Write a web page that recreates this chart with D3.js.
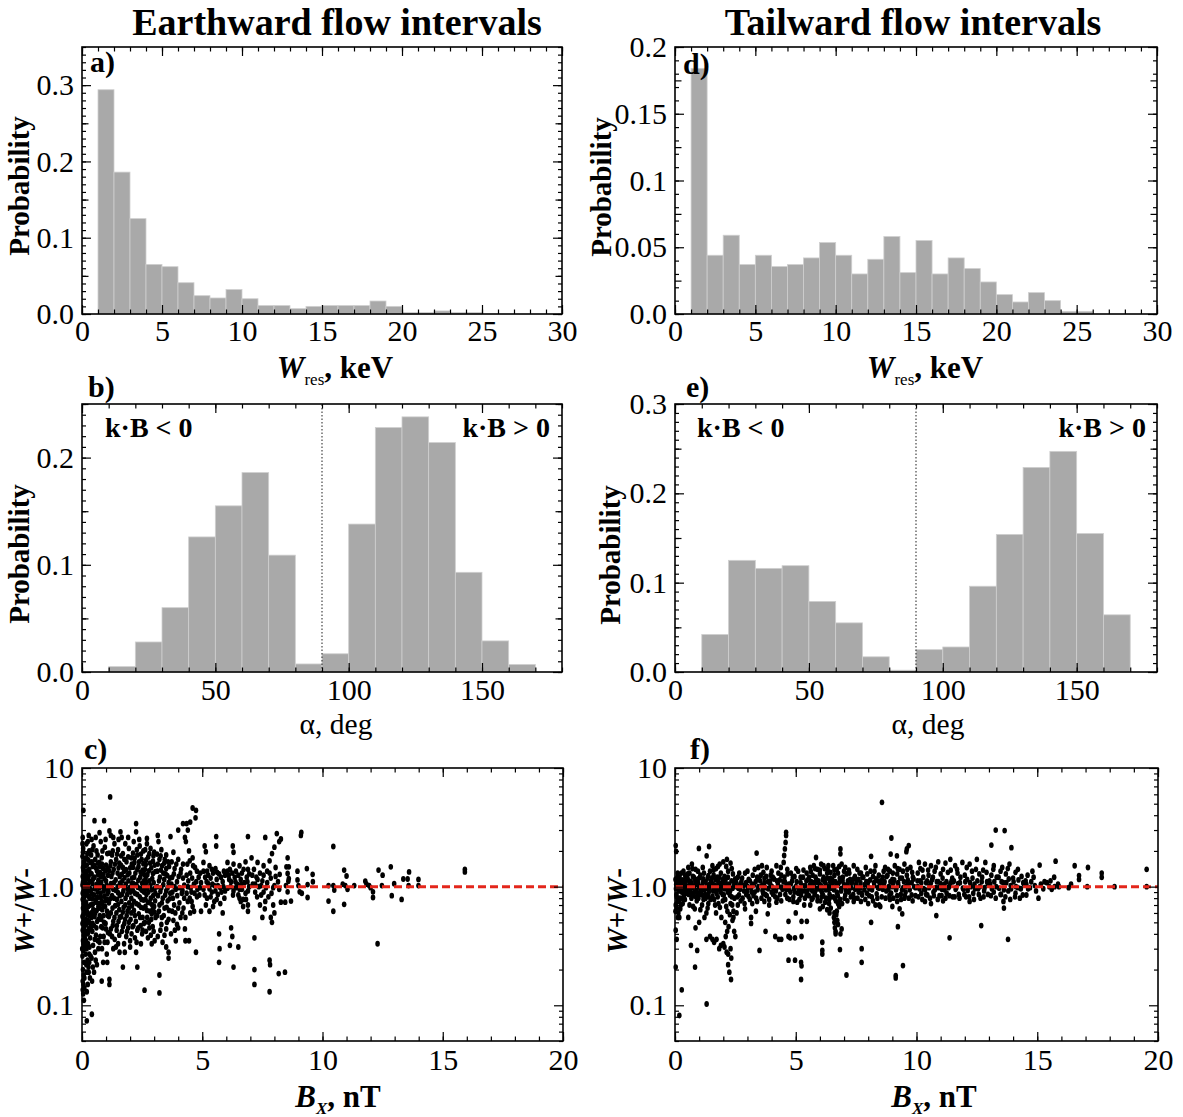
<!DOCTYPE html>
<html>
<head>
<meta charset="utf-8">
<script src="https://cdn.jsdelivr.net/npm/d3@7"></script>
<style>
body { margin: 0; background: #fff; }
text { font-family: "Liberation Serif", "Times New Roman", serif; }
</style>
</head>
<body>
<script>
// ---- histogram data (bin lower edges + probability) ----
var wresBinsEarth = [1,2,3,4,5,6,7,8,9,10,11,12,13,14,15,16,17,18,19,20,21,22,23,24];
var wresProbEarth = [0.294,0.186,0.125,0.065,0.062,0.041,0.024,0.021,0.032,0.020,0.011,0.011,0.007,0.010,0.011,0.011,0.011,0.017,0.010,0.002,0.002,0.004,0.002,0.002];

var wresBinsTail = [1,2,3,4,5,6,7,8,9,10,11,12,13,14,15,16,17,18,19,20,21,22,23,24,25];
var wresProbTail = [0.184,0.044,0.059,0.037,0.044,0.0355,0.037,0.042,0.0535,0.044,0.030,0.041,0.058,0.031,0.055,0.030,0.042,0.034,0.024,0.0145,0.009,0.016,0.010,0.002,0.002];

var alphaBins = [10,20,30,40,50,60,70,80,90,100,110,120,130,140,150,160];
var alphaProbEarth = [0.005,0.028,0.060,0.126,0.155,0.186,0.109,0.0075,0.017,0.138,0.228,0.238,0.214,0.093,0.029,0.007];
var alphaProbTail = [0.042,0.125,0.116,0.119,0.079,0.055,0.017,0.002,0.025,0.028,0.096,0.154,0.229,0.247,0.155,0.064];

// ---- tick labels ----
var wresTicks = [0,5,10,15,20,25,30];
var alphaTicks = [0,50,100,150];
var bxTicks = [0,5,10,15,20];
var probTicksA = ["0.0","0.1","0.2","0.3"];
var probTicksD = ["0.0","0.05","0.1","0.15","0.2"];
var probTicksB = ["0.0","0.1","0.2"];
var probTicksE = ["0.0","0.1","0.2","0.3"];
var ratioTicks = ["0.1","1.0","10"];

// ---- scatter data [Bx nT, W+/W-] ----
var earthPoints = [
[0.03,2.6],[0.05,2.1],[0.02,1.8],[0.08,1.62],[0.04,1.45],[0.1,1.33],[0.03,1.22],[0.07,1.12],[0.02,1.03],[0.09,0.97],[0.05,0.9],[0.12,0.84],[0.03,0.78],[0.07,0.72],[0.04,0.66],[0.1,0.61],[0.02,0.56],[0.06,0.51],[0.11,0.47],[0.03,0.43],[0.08,0.39],[0.04,0.35],[0.12,0.32],[0.05,0.29],[0.02,0.26],[0.09,0.23],[0.04,0.2],[0.07,0.18],[0.03,0.16],[0.1,0.14],[0.05,0.125],[0.08,0.11],[0.06,4.4],[0.04,1.95],[0.13,1.5],[0.14,1.08],[0.13,0.7],[0.14,0.42],
[0.18,2.3],[0.22,1.9],[0.26,1.68],[0.2,1.52],[0.3,1.4],[0.17,1.27],[0.25,1.17],[0.33,1.1],[0.19,1.0],[0.28,0.93],[0.22,0.86],[0.31,0.8],[0.17,0.74],[0.26,0.68],[0.2,0.62],[0.32,0.57],[0.24,0.52],[0.18,0.48],[0.29,0.44],[0.21,0.4],[0.34,0.37],[0.25,0.33],[0.19,0.3],[0.3,0.27],[0.23,0.24],[0.27,0.21],[0.2,0.19],[0.33,0.17],[0.24,0.15],[0.2,0.13],[0.3,0.23],[0.2,0.074],[0.41,0.084],[0.28,2.7],
[0.52,3.6],[0.4,2.5],[0.48,2.2],[0.6,2.0],[0.38,1.85],[0.55,1.7],[0.66,1.58],[0.45,1.48],[0.62,1.36],[0.4,1.28],[0.52,1.2],[0.68,1.13],[0.44,1.06],[0.58,0.99],[0.37,0.94],[0.65,0.9],[0.5,0.85],[0.42,0.79],[0.6,0.74],[0.68,0.68],[0.47,0.64],[0.55,0.6],[0.39,0.55],[0.63,0.51],[0.5,0.47],[0.43,0.42],[0.58,0.39],[0.66,0.35],[0.46,0.32],[0.54,0.28],[0.4,0.25],[0.62,0.22],[0.5,0.19],[0.42,0.16],[0.82,0.16],
[0.92,3.6],[0.78,2.4],[0.95,2.15],[1.05,1.9],[0.82,1.75],[0.72,1.6],[1.0,1.52],[0.88,1.42],[0.75,1.32],[1.08,1.25],[0.93,1.17],[0.8,1.09],[1.02,1.03],[0.72,0.98],[0.9,0.92],[1.06,0.87],[0.78,0.81],[0.97,0.76],[0.85,0.71],[0.73,0.66],[1.04,0.62],[0.9,0.57],[0.8,0.53],[0.98,0.49],[0.86,0.45],[1.08,0.41],[0.76,0.38],[0.94,0.34],[0.83,0.3],[1.03,0.27],[0.88,0.23],
[1.17,5.7],[1.14,2.95],[1.2,2.7],[1.35,2.3],[1.5,2.05],[1.25,1.85],[1.42,1.7],[1.55,1.58],[1.18,1.5],[1.32,1.4],[1.48,1.3],[1.22,1.22],[1.4,1.14],[1.58,1.07],[1.15,1.0],[1.3,0.95],[1.5,0.89],[1.25,0.84],[1.45,0.78],[1.12,0.73],[1.38,0.69],[1.55,0.64],[1.2,0.6],[1.35,0.55],[1.52,0.51],[1.28,0.47],[1.44,0.43],[1.16,0.4],[1.36,0.36],[1.5,0.33],[1.14,0.165],[1.14,0.15],[1.05,0.23],[1.56,0.28],[1.3,0.3],
[1.65,2.6],[1.8,2.3],[1.95,2.1],[1.7,1.9],[2.05,1.75],[1.85,1.62],[1.62,1.52],[2.0,1.44],[1.75,1.35],[1.9,1.26],[2.08,1.18],[1.68,1.12],[1.82,1.05],[1.98,0.98],[1.72,0.92],[1.88,0.86],[2.05,0.8],[1.64,0.75],[1.8,0.7],[1.95,0.66],[1.7,0.61],[1.86,0.57],[2.02,0.53],[1.76,0.49],[1.92,0.45],[1.66,0.42],[1.84,0.38],[2.0,0.35],[1.7,0.21],[2.0,0.31],[1.78,0.28],
[2.25,3.4],[2.25,2.9],[2.15,2.4],[2.4,2.2],[2.55,2.0],[2.3,1.85],[2.48,1.7],[2.18,1.6],[2.35,1.48],[2.52,1.38],[2.22,1.3],[2.42,1.2],[2.58,1.12],[2.14,1.06],[2.32,0.99],[2.5,0.93],[2.2,0.88],[2.4,0.82],[2.56,0.77],[2.26,0.72],[2.45,0.67],[2.16,0.63],[2.36,0.59],[2.52,0.55],[2.24,0.51],[2.44,0.47],[2.3,0.43],[2.5,0.4],[2.2,0.37],[2.3,0.21],[2.25,0.28],[2.6,0.134],
[2.7,2.3],[2.85,2.1],[3.0,1.95],[2.75,1.78],[2.95,1.64],[2.65,1.54],[2.88,1.44],[3.05,1.34],[2.72,1.26],[2.92,1.17],[2.68,1.09],[2.84,1.02],[3.02,0.96],[2.76,0.9],[2.96,0.84],[2.64,0.78],[2.82,0.73],[3.0,0.68],[2.7,0.63],[2.9,0.59],[3.06,0.55],[2.78,0.5],[2.94,0.46],[2.66,0.42],[2.86,0.39],[3.02,0.35],[2.94,0.64],[2.6,0.95],
[3.15,2.7],[3.18,2.4],[3.68,2.64],[3.3,2.05],[3.5,1.85],[3.22,1.7],[3.42,1.58],[3.62,1.48],[3.28,1.38],[3.48,1.28],[3.66,1.18],[3.2,1.12],[3.38,1.04],[3.56,0.98],[3.26,0.91],[3.46,0.85],[3.64,0.79],[3.32,0.73],[3.52,0.67],[3.2,0.62],[3.4,0.57],[3.6,0.53],[3.3,0.48],[3.5,0.44],[3.22,0.18],[3.22,0.127],[3.6,0.28],[3.6,0.25],[3.5,0.31],[3.7,0.4],
[3.8,1.95],[4.0,1.7],[4.2,1.55],[3.85,1.42],[4.1,1.3],[3.75,1.2],[3.95,1.1],[4.25,1.03],[3.9,0.95],[4.15,0.88],[3.78,0.8],[4.05,0.73],[4.22,0.66],[3.88,0.6],[4.1,0.55],[3.95,0.48],[4.28,0.44],[3.9,0.35],[4.3,0.35],[4.0,3.0],[4.2,3.4],
[4.6,4.6],[4.74,4.4],[4.72,3.8],[4.35,3.4],[4.5,3.5],[4.4,3.0],[4.28,2.6],[4.32,2.4],[4.45,2.0],[4.6,1.75],[4.38,1.55],[4.7,1.45],[4.5,1.3],[4.85,1.2],[4.42,1.12],[4.65,1.05],[4.9,0.98],[4.55,0.9],[4.78,0.82],[4.4,0.75],[4.6,0.68],[4.95,0.62],[4.74,0.28],[4.45,0.35],[4.56,0.75],
[5.1,2.2],[5.15,1.97],[5.58,2.64],[5.58,2.2],[5.05,1.6],[5.3,1.5],[5.55,1.42],[5.2,1.35],[5.45,1.3],[5.7,1.28],[5.9,1.35],[5.12,1.2],[5.35,1.18],[5.6,1.15],[5.85,1.1],[5.25,1.06],[5.5,1.02],[5.75,0.98],[5.05,0.95],[5.4,0.9],[5.65,0.86],[5.95,0.92],[5.2,0.8],[5.5,0.75],[5.85,0.6],[5.7,0.4],[5.72,0.3],[5.7,0.23],[5.3,0.62],[5.15,0.7],
[6.27,2.2],[6.3,1.95],[6.9,2.64],[6.05,1.6],[6.3,1.55],[6.55,1.5],[6.8,1.62],[6.15,1.4],[6.4,1.35],[6.65,1.3],[6.9,1.4],[6.1,1.25],[6.35,1.2],[6.6,1.15],[6.85,1.2],[6.2,1.1],[6.45,1.05],[6.75,1.08],[6.95,1.0],[6.05,0.97],[6.3,0.92],[6.55,0.95],[6.8,0.88],[6.5,0.85],[6.7,0.78],[6.9,0.7],[6.2,0.45],[6.25,0.38],[6.15,0.32],[6.5,0.31],[6.3,0.21],[6.6,0.75],
[7.62,2.6],[8.1,2.8],[8.2,2.4],[8.0,2.15],[7.9,1.9],[7.05,1.75],[7.3,1.6],[7.55,1.5],[7.8,1.65],[7.15,1.4],[7.4,1.3],[7.7,1.35],[8.05,1.45],[7.25,1.2],[7.5,1.12],[7.85,1.18],[7.1,1.05],[7.35,1.0],[7.65,0.98],[8.0,1.02],[7.2,0.9],[7.45,0.85],[7.75,0.82],[7.4,0.7],[7.6,0.65],[7.85,0.55],[8.0,0.6],[7.9,0.5],[7.17,0.37],[7.17,0.2],[7.17,0.15],[7.8,0.24],[7.82,0.22],[7.8,0.13],[8.18,0.185],[8.44,0.19],[7.5,0.55],
[8.27,2.52],[9.1,2.7],[9.12,2.86],[10.45,2.18],[8.55,1.75],[8.5,1.47],[8.6,1.47],[8.22,1.27],[8.55,1.29],[8.6,1.17],[8.58,1.11],[8.96,1.35],[8.96,1.14],[9.35,1.42],[9.59,1.27],[9.6,1.1],[9.38,1.04],[9.0,1.02],[9.05,0.905],[8.48,1.02],[8.55,0.905],[8.69,0.755],[8.45,0.74],[8.27,0.74],[9.14,0.88],[9.38,0.81],[10.25,1.02],[10.45,1.02],[10.49,0.935],[10.25,0.755],[10.45,0.62],[10.9,1.38],[11.0,1.23],[10.84,1.05],[10.95,1.02],[11.04,0.95],[10.9,0.71],[11.32,1.02],[11.78,1.11],[11.83,1.05],[11.94,1.02],[12.0,0.98],[12.1,0.905],[12.1,0.81],[12.29,0.33],[12.33,1.38],[12.5,1.25],[12.47,1.02],[12.84,1.47],[12.88,0.84],[12.98,1.06],[13.29,0.78],[13.36,1.16],[13.54,1.16],[13.6,1.33],[13.58,1.02],[13.99,1.15],[13.99,1.02],[15.92,1.4],[15.92,1.33],
[0.06,1.38],[0.11,1.16],[0.04,1.09],[0.15,0.99],[0.09,0.81],[0.13,0.63],[0.07,0.58],[0.16,0.53],[0.02,0.49],[0.12,0.37],[0.06,0.33],[0.15,0.27],[0.01,0.3],[0.09,0.45],[0.11,0.68],[0.03,0.88],[0.16,1.25],[0.08,1.55],[0.14,1.72],[0.02,2.3],[0.1,0.17],[0.03,0.135],[0.06,0.15],
[0.21,1.36],[0.27,1.22],[0.35,1.3],[0.24,1.05],[0.32,0.97],[0.18,0.9],[0.29,0.83],[0.36,0.7],[0.23,0.58],[0.3,0.5],[0.36,0.46],[0.26,0.41],[0.17,0.35],[0.31,0.31],[0.36,0.26],[0.18,0.22],[0.28,0.19],[0.35,1.6],[0.19,1.75],[0.3,2.0],[0.24,2.4],
[0.41,1.62],[0.5,1.52],[0.58,1.44],[0.67,1.26],[0.46,1.16],[0.62,1.05],[0.53,0.96],[0.41,0.87],[0.64,0.81],[0.55,0.77],[0.45,0.71],[0.61,0.63],[0.38,0.6],[0.52,0.56],[0.68,0.53],[0.44,0.49],[0.6,0.45],[0.37,0.44],[0.53,0.36],[0.68,0.3],[0.57,0.24],[0.45,0.21],[0.65,1.85],[0.43,2.05],[0.57,2.6],
[0.74,1.48],[0.83,1.55],[0.97,1.36],[1.06,1.42],[0.79,1.22],[0.89,1.27],[1.0,1.12],[0.75,1.06],[0.87,1.0],[0.95,0.96],[1.08,0.95],[0.77,0.88],[0.93,0.83],[1.03,0.78],[0.82,0.75],[0.71,0.72],[0.96,0.68],[0.84,0.64],[1.07,0.57],[0.74,0.57],[0.92,0.5],[0.8,0.46],[1.0,0.44],[0.9,0.38],[0.73,0.34],[1.06,0.34],[0.98,2.5],[0.85,2.0],[0.73,2.85],
[1.13,1.92],[1.28,2.0],[1.46,1.88],[1.2,1.62],[1.37,1.55],[1.52,1.44],[1.13,1.36],[1.27,1.3],[1.57,1.22],[1.33,1.08],[1.2,1.06],[1.48,1.0],[1.1,0.91],[1.41,0.93],[1.57,0.84],[1.33,0.8],[1.17,0.79],[1.5,0.71],[1.27,0.66],[1.43,0.6],[1.12,0.56],[1.57,0.55],[1.3,0.51],[1.45,0.47],[1.2,0.44],[1.55,0.39],[1.25,0.38],[1.41,0.31],[1.52,2.5],[1.3,2.6],
[1.63,1.82],[1.76,1.7],[1.92,1.78],[2.07,1.55],[1.7,1.45],[1.83,1.39],[1.97,1.3],[1.65,1.27],[1.77,1.19],[1.93,1.12],[2.07,1.06],[1.61,1.03],[1.75,0.99],[1.9,0.95],[2.02,0.9],[1.66,0.86],[1.81,0.8],[1.96,0.73],[2.08,0.69],[1.73,0.67],[1.89,0.62],[2.05,0.6],[1.63,0.56],[1.79,0.53],[1.95,0.5],[2.1,0.46],[1.7,0.46],[1.87,0.42],[2.06,0.4],[1.75,0.33],[1.92,2.6],[1.6,2.9],
[2.12,1.92],[2.28,2.05],[2.45,1.88],[2.19,1.74],[2.37,1.62],[2.55,1.56],[2.13,1.46],[2.3,1.4],[2.44,1.32],[2.58,1.27],[2.17,1.2],[2.34,1.13],[2.5,1.07],[2.26,1.04],[2.43,0.96],[2.12,0.93],[2.58,0.9],[2.3,0.86],[2.47,0.78],[2.16,0.75],[2.36,0.7],[2.55,0.66],[2.2,0.57],[2.42,0.55],[2.57,0.49],[2.14,0.47],[2.34,0.45],[2.52,0.43],[2.27,0.34],[2.45,0.33],[2.38,2.5],
[2.63,2.05],[2.8,1.9],[2.97,1.82],[2.67,1.68],[2.83,1.58],[3.02,1.52],[2.62,1.4],[2.78,1.36],[2.95,1.29],[2.65,1.2],[2.8,1.12],[2.98,1.08],[2.63,1.03],[2.72,0.97],[2.9,0.94],[3.05,0.88],[2.68,0.86],[2.86,0.8],[3.04,0.76],[2.74,0.74],[2.92,0.7],[2.64,0.68],[2.83,0.62],[3.02,0.61],[2.71,0.55],[2.88,0.53],[2.62,0.5],[2.8,0.45],[2.98,0.42],[2.74,0.37],[2.9,0.33],[2.7,2.55],
[3.12,1.88],[3.27,1.82],[3.44,1.7],[3.58,1.62],[3.15,1.55],[3.33,1.5],[3.5,1.42],[3.13,1.35],[3.38,1.3],[3.55,1.24],[3.24,1.2],[3.42,1.15],[3.6,1.08],[3.13,1.0],[3.3,0.98],[3.5,0.92],[3.67,0.88],[3.16,0.84],[3.36,0.8],[3.56,0.76],[3.22,0.7],[3.43,0.66],[3.62,0.63],[3.13,0.57],[3.32,0.55],[3.53,0.5],[3.26,0.43],[3.43,0.39],[3.15,0.38],[3.35,0.34],
[3.73,1.62],[3.92,1.55],[4.12,1.4],[3.82,1.28],[4.02,1.22],[4.2,1.18],[3.72,1.05],[3.85,1.0],[4.05,0.98],[4.18,0.93],[3.76,0.9],[3.96,0.84],[4.25,0.8],[3.83,0.7],[4.0,0.66],[3.75,0.62],[4.17,0.6],[3.8,0.52],[4.0,0.45],[3.86,0.43],
[4.48,1.65],[4.62,1.5],[4.78,1.35],[4.92,1.3],[4.35,1.25],[4.58,1.18],[4.75,1.1],[4.95,1.08],[4.4,1.0],[4.52,0.98],[4.8,0.95],[4.35,0.88],[4.68,0.88],[4.88,0.85],[4.48,0.8],[4.66,0.62],[4.3,0.55],[4.5,0.6],
[5.05,1.35],[5.25,1.25],[5.4,1.4],[5.62,1.32],[5.78,1.2],[5.95,1.25],[5.18,1.1],[5.42,1.05],[5.65,1.02],[5.88,1.0],[5.3,0.96],[5.55,0.92],[5.8,0.9],[5.1,0.85],[5.35,0.82],[5.6,0.78],[5.92,0.8],[5.45,0.68],[5.75,0.72],
[6.05,1.35],[6.25,1.3],[6.5,1.25],[6.72,1.4],[6.95,1.28],[6.12,1.15],[6.38,1.1],[6.62,1.05],[6.88,1.1],[6.18,1.0],[6.4,0.98],[6.65,0.95],[6.9,0.92],[6.28,0.85],[6.55,0.8],[6.82,0.78],[6.7,0.68],[6.9,0.62],
[7.08,1.25],[7.3,1.15],[7.55,1.25],[7.8,1.3],[8.05,1.22],[7.2,1.05],[7.45,1.02],[7.7,1.08],[7.95,0.98],[7.28,0.82],[7.55,0.9],[7.88,0.88],[7.62,0.75],[7.95,0.7],[8.15,1.1],[8.2,0.95]
];

var tailPoints = [
[0.03,2.22],[0.05,1.98],[0.02,1.15],[0.08,1.08],[0.12,1.02],[0.04,0.96],[0.15,0.92],[0.06,0.86],[0.2,0.8],[0.1,0.75],[0.03,0.7],[0.25,1.1],[0.3,1.05],[0.18,1.0],[0.35,0.97],[0.28,0.9],[0.4,1.12],[0.45,1.0],[0.38,0.85],[0.22,0.65],[0.03,0.43],[0.07,0.36],[0.03,0.21],[0.28,0.135],[0.18,0.082],[0.14,0.6],[0.32,0.72],[0.46,0.88],[0.1,1.2],[0.42,1.25],[0.26,1.3],[0.48,1.15],[0.12,0.55],
[0.55,1.45],[0.7,1.55],[0.6,1.3],[0.85,1.4],[0.99,2.1],[1.41,2.18],[1.31,1.82],[0.52,1.18],[0.65,1.1],[0.78,1.2],[0.92,1.15],[1.05,1.25],[1.2,1.3],[1.35,1.18],[1.45,1.35],[0.58,1.02],[0.72,0.98],[0.88,1.05],[1.0,1.0],[1.15,1.08],[1.28,0.97],[1.42,1.04],[0.62,0.93],[0.8,0.9],[0.95,0.88],[1.1,0.93],[1.25,0.86],[1.4,0.9],[0.68,0.8],[0.9,0.76],[1.18,0.78],[1.38,0.72],[0.75,0.68],[1.05,0.64],[1.3,0.6],[0.66,0.32],[0.92,0.29],[0.83,0.21],[1.31,0.1025],[0.55,0.55],[0.85,0.45],[1.0,0.5],[1.22,0.55],[1.3,0.36],[1.45,0.38],
[1.55,1.5],[1.7,1.42],[1.85,1.55],[2.0,1.62],[2.15,1.7],[2.3,1.58],[1.6,1.25],[1.75,1.2],[1.9,1.3],[2.05,1.22],[2.2,1.35],[2.4,1.28],[1.52,1.08],[1.65,1.02],[1.8,1.1],[1.95,1.0],[2.1,1.06],[2.25,0.98],[2.45,1.1],[1.58,0.92],[1.72,0.88],[1.88,0.95],[2.02,0.85],[2.18,0.9],[2.35,0.82],[1.62,0.78],[1.8,0.72],[1.98,0.76],[2.12,0.68],[2.3,0.72],[2.42,0.62],[1.7,0.6],[1.92,0.55],[2.08,0.5],[2.22,0.46],[2.38,0.52],[1.55,0.36],[1.72,0.36],[1.83,0.3],[1.9,0.32],[2.0,0.33],[2.05,0.31],[2.14,0.28],[2.2,0.27],[2.3,0.3],[2.33,0.25],[2.2,0.22],[2.25,0.19],[2.32,0.165],[1.62,0.34],[2.45,0.42],[2.5,0.38],
[2.6,1.2],[2.75,1.1],[2.9,1.3],[3.05,1.15],[3.2,1.05],[3.38,1.92],[3.3,1.4],[3.45,1.45],[2.55,1.0],[2.7,0.95],[2.85,1.02],[3.0,0.92],[3.15,0.98],[3.3,0.9],[3.45,1.0],[2.65,0.85],[2.8,0.8],[2.95,0.86],[3.1,0.78],[3.25,0.84],[3.4,0.75],[2.6,0.7],[2.9,0.65],[3.15,0.55],[3.15,0.49],[2.55,0.6],[3.35,0.62],[3.5,0.29],
[3.6,1.5],[3.8,1.45],[4.0,1.35],[4.2,1.5],[4.38,1.45],[3.55,1.25],[3.7,1.18],[3.85,1.1],[4.05,1.2],[4.22,1.12],[4.4,1.25],[3.6,1.02],[3.75,0.98],[3.95,1.04],[4.1,0.96],[4.3,1.0],[4.45,0.95],[3.65,0.88],[3.8,0.84],[4.0,0.9],[4.15,0.82],[4.35,0.86],[3.7,0.75],[3.9,0.7],[4.2,0.74],[3.84,0.59],[3.75,0.42],[4.15,0.38],[4.4,0.36],[4.3,0.36],
[4.6,2.87],[4.6,2.7],[4.58,2.36],[4.55,2.08],[4.52,1.83],[4.5,1.6],[4.65,1.4],[4.8,1.3],[4.95,1.22],[5.1,1.35],[5.3,1.2],[5.45,1.3],[4.55,1.1],[4.7,1.05],[4.85,1.12],[5.0,1.0],[5.2,1.08],[5.4,1.02],[4.6,0.95],[4.78,0.9],[4.92,0.96],[5.1,0.88],[5.25,0.92],[5.45,0.85],[4.65,0.8],[4.9,0.75],[5.15,0.78],[5.35,0.7],[4.7,0.51],[4.7,0.38],[4.77,0.37],[4.97,0.37],[5.24,0.38],[5.46,0.51],[5.24,0.51],[4.7,0.24],[4.97,0.24],[5.22,0.23],[5.24,0.215],[5.22,0.165],[5.0,0.6],
[5.84,1.76],[5.6,1.45],[5.75,1.5],[5.9,1.4],[6.05,1.55],[6.2,1.42],[6.35,1.5],[5.55,1.2],[5.7,1.25],[5.85,1.15],[6.0,1.28],[6.15,1.2],[6.3,1.3],[6.45,1.18],[5.6,1.05],[5.75,1.0],[5.9,1.08],[6.05,1.02],[6.2,1.1],[6.35,1.0],[6.48,1.06],[5.65,0.94],[5.8,0.9],[5.95,0.96],[6.1,0.88],[6.25,0.94],[6.4,0.86],[5.7,0.8],[5.9,0.76],[6.08,0.82],[6.22,0.74],[6.38,0.78],[6.1,0.29],[6.1,0.27],[6.1,0.34],[6.4,0.6],[6.45,0.66],[6.0,0.65],[5.6,0.7],
[6.85,2.08],[6.85,1.89],[6.55,1.5],[6.7,1.4],[6.9,1.55],[7.05,1.45],[7.2,1.38],[7.4,1.5],[6.6,1.25],[6.75,1.3],[6.95,1.2],[7.1,1.28],[7.25,1.15],[7.45,1.22],[6.52,1.08],[6.68,1.02],[6.82,1.1],[7.0,1.0],[7.15,1.06],[7.3,0.98],[7.48,1.04],[6.58,0.94],[6.72,0.88],[6.88,0.92],[7.05,0.85],[7.2,0.9],[7.38,0.86],[6.62,0.8],[6.75,0.72],[6.8,0.68],[6.7,0.62],[6.6,0.5],[6.62,0.45],[6.65,0.42],[6.65,0.4],[6.58,0.55],[6.85,0.4],[6.9,0.44],[6.83,0.295],[7.1,0.18],[7.4,0.75],
[8.12,1.8],[7.55,1.4],[7.7,1.3],[7.9,1.45],[8.1,1.35],[8.3,1.5],[7.6,1.15],[7.8,1.2],[8.0,1.1],[8.2,1.22],[8.4,1.12],[7.52,1.02],[7.68,0.98],[7.85,1.04],[8.05,0.96],[8.25,1.02],[8.45,0.97],[7.6,0.9],[7.75,0.85],[7.95,0.88],[8.15,0.82],[8.35,0.87],[7.7,0.75],[8.0,0.72],[8.3,0.7],[7.73,0.3],[7.73,0.23],[8.12,0.5],[8.5,0.68],[8.57,5.14],[8.45,0.7],
[8.96,2.57],[9.68,2.22],[9.6,2.08],[9.58,1.97],[8.93,1.88],[9.19,1.82],[8.7,1.45],[8.9,1.35],[9.1,1.5],[9.3,1.4],[9.5,1.55],[9.75,1.45],[8.6,1.2],[8.8,1.25],[9.0,1.15],[9.2,1.28],[9.4,1.18],[9.6,1.25],[9.85,1.2],[8.65,1.05],[8.85,1.0],[9.05,1.08],[9.25,1.02],[9.45,0.98],[9.65,1.06],[9.9,1.0],[8.75,0.92],[8.95,0.88],[9.15,0.94],[9.35,0.86],[9.55,0.9],[9.8,0.85],[8.9,0.78],[9.2,0.75],[9.5,0.8],[9.23,0.46],[9.44,0.216],[9.14,0.178],[9.14,0.17],[9.41,0.59],[9.0,0.68],[9.3,0.65],
[10.1,1.6],[10.35,1.55],[10.6,1.5],[10.9,1.62],[11.2,1.58],[11.4,1.7],[10.05,1.3],[10.25,1.38],[10.5,1.25],[10.75,1.35],[11.0,1.28],[11.3,1.32],[10.15,1.12],[10.4,1.08],[10.65,1.15],[10.9,1.1],[11.15,1.05],[11.45,1.12],[10.05,1.0],[10.3,0.96],[10.55,1.02],[10.8,0.98],[11.05,0.95],[11.35,1.0],[10.2,0.88],[10.45,0.85],[10.7,0.9],[10.95,0.84],[11.25,0.88],[11.5,0.82],[10.35,0.75],[10.6,0.72],[11.1,0.76],[10.82,0.57],[11.37,0.37],
[11.6,1.5],[11.9,1.6],[12.2,1.55],[12.5,1.7],[12.85,1.6],[11.7,1.3],[12.0,1.25],[12.3,1.35],[12.6,1.28],[12.9,1.32],[11.55,1.12],[11.8,1.08],[12.1,1.15],[12.4,1.05],[12.7,1.1],[12.95,1.06],[11.65,0.98],[11.95,0.95],[12.25,1.0],[12.55,0.96],[12.8,0.92],[11.75,0.86],[12.05,0.82],[12.35,0.88],[12.65,0.8],[12.2,0.75],[12.68,0.47],
[13.28,3.0],[13.65,2.97],[13.1,2.24],[13.93,2.13],[13.2,1.5],[13.55,1.45],[13.85,1.55],[14.2,1.4],[13.1,1.25],[13.4,1.2],[13.7,1.28],[14.0,1.18],[14.35,1.22],[13.05,1.05],[13.3,1.0],[13.6,1.08],[13.9,1.02],[14.2,0.98],[14.45,1.05],[13.2,0.9],[13.5,0.86],[13.8,0.92],[14.1,0.88],[14.4,0.85],[13.62,0.66],[13.79,0.36],[13.6,0.75],
[14.6,1.25],[14.8,1.35],[14.55,1.05],[14.7,0.98],[14.9,1.02],[15.1,1.52],[15.05,0.8],[14.55,0.85],[15.3,1.1],[15.5,1.0],[15.6,0.95],[15.76,1.64],[15.72,1.0],[15.86,1.05],[15.9,1.0],[16.3,0.98],[16.4,1.05],[16.55,1.5],[16.73,1.24],[16.73,1.15],[17.07,1.0],[17.1,1.45],[17.67,1.3],[17.67,1.2],[18.2,1.0],[19.53,1.4],[19.53,1.0],
[0.05,1.05],[0.09,0.98],[0.14,1.1],[0.19,1.2],[0.23,0.93],[0.27,1.02],[0.33,1.14],[0.37,0.9],[0.43,1.06],[0.47,0.95],[0.07,0.82],[0.16,0.76],[0.29,0.8],[0.41,0.78],[0.11,1.3],[0.35,1.35],[0.08,0.66],[0.24,0.7],[0.02,0.62],[0.18,0.55],
[0.53,1.28],[0.58,1.12],[0.63,0.97],[0.69,1.07],[0.74,1.22],[0.79,1.0],[0.84,1.12],[0.89,0.93],[0.95,1.08],[1.0,1.18],[1.06,0.95],[1.12,1.02],[1.17,1.16],[1.22,0.94],[1.27,1.1],[1.33,1.02],[1.38,1.24],[1.43,0.97],[1.48,1.12],[0.57,0.86],[0.67,0.88],[0.77,0.84],[0.87,0.82],[0.97,0.8],[1.07,0.86],[1.17,0.84],[1.27,0.8],[1.37,0.83],[1.47,0.78],[0.6,0.7],[0.82,0.65],[1.12,0.7],[1.35,0.66],[0.72,1.42],[0.95,1.35],[1.15,1.45],
[1.53,1.18],[1.58,1.04],[1.63,0.98],[1.68,1.14],[1.74,0.94],[1.79,1.04],[1.84,1.2],[1.89,0.9],[1.94,1.07],[1.99,1.15],[2.04,0.96],[2.09,1.12],[2.14,0.98],[2.19,1.2],[2.24,1.05],[2.29,0.93],[2.34,1.12],[2.39,0.97],[2.44,1.02],[2.49,1.16],[1.55,0.83],[1.66,0.7],[1.77,0.82],[1.86,0.67],[1.97,0.86],[2.08,0.78],[2.17,0.62],[2.27,0.85],[2.37,0.7],[2.46,0.8],[1.6,1.38],[1.78,1.48],[2.12,1.48],[2.35,1.42],[2.42,0.55],[2.27,0.58],[2.16,0.42],[2.1,0.38],
[2.53,1.1],[2.62,0.97],[2.7,1.05],[2.78,1.18],[2.86,0.92],[2.94,1.08],[3.02,1.0],[3.1,1.12],[3.18,0.9],[3.26,1.02],[3.34,1.1],[3.42,0.94],[3.48,1.15],[2.58,0.82],[2.72,0.76],[2.88,0.72],[3.04,0.83],[3.2,0.72],[3.36,0.8],[2.66,1.3],[3.0,1.35],[3.22,1.25],[3.4,1.2],
[3.53,1.12],[3.62,0.93],[3.7,1.08],[3.78,1.22],[3.86,0.96],[3.94,1.12],[4.02,1.0],[4.1,1.16],[4.18,0.92],[4.26,1.06],[4.34,1.14],[4.42,0.99],[4.49,1.1],[3.58,0.8],[3.74,0.86],[3.9,0.78],[4.06,0.86],[4.24,0.8],[4.4,0.76],[3.66,1.32],[3.96,1.25],[4.28,1.3],
[4.53,1.2],[4.62,1.02],[4.72,0.94],[4.8,1.06],[4.88,1.2],[4.96,0.9],[5.04,1.1],[5.12,0.96],[5.2,1.2],[5.28,1.02],[5.36,0.92],[5.44,1.12],[4.57,0.86],[4.74,0.78],[4.9,0.82],[5.06,0.74],[5.22,0.85],[5.38,0.8],[5.48,0.92],[4.66,1.28],[5.02,1.42],[5.32,1.38],
[5.52,1.15],[5.58,0.98],[5.64,1.1],[5.7,0.92],[5.76,1.08],[5.82,1.2],[5.88,0.96],[5.94,1.12],[6.0,1.04],[6.06,0.92],[6.12,1.14],[6.18,0.98],[6.24,1.06],[6.3,1.18],[6.36,0.94],[6.42,1.1],[6.47,0.97],[5.55,0.84],[5.66,0.78],[5.78,0.86],[5.9,0.82],[6.02,0.76],[6.14,0.84],[6.26,0.8],[6.38,0.72],[6.46,0.82],[5.62,1.35],[5.8,1.42],[6.0,1.38],[6.15,1.5],[6.32,1.4],[6.44,1.32],[6.12,0.68],[6.3,0.64],
[6.52,1.14],[6.58,0.97],[6.64,1.1],[6.7,0.9],[6.76,1.06],[6.82,1.18],[6.88,0.96],[6.94,1.12],[7.0,1.04],[7.08,0.93],[7.16,1.12],[7.24,0.98],[7.32,1.08],[7.4,1.16],[7.46,0.95],[6.56,0.82],[6.66,0.76],[6.74,0.84],[6.84,0.78],[6.92,0.72],[7.02,0.8],[7.14,0.76],[7.28,0.82],[7.42,0.8],[6.6,1.38],[6.8,1.48],[7.0,1.35],[7.22,1.3],[6.68,0.58],[6.72,0.52],[6.6,0.6],[6.75,0.48],
[7.52,1.12],[7.6,0.96],[7.68,1.08],[7.76,1.2],[7.84,0.94],[7.92,1.1],[8.0,1.0],[8.08,1.14],[8.16,0.94],[8.24,1.08],[8.32,1.16],[8.4,0.98],[8.48,1.06],[7.56,0.8],[7.72,0.88],[7.88,0.78],[8.04,0.84],[8.2,0.76],[8.38,0.8],[7.64,1.3],[7.96,1.28],[8.26,1.35],[8.44,1.25],
[8.52,1.12],[8.6,0.95],[8.68,1.1],[8.76,1.22],[8.84,0.94],[8.92,1.1],[9.0,1.0],[9.08,1.14],[9.16,0.96],[9.24,1.08],[9.32,1.18],[9.4,0.94],[9.48,1.1],[9.56,1.0],[9.64,1.14],[9.72,0.94],[9.8,1.08],[9.88,1.16],[9.96,0.98],[8.56,0.82],[8.72,0.8],[8.88,0.84],[9.04,0.8],[9.2,0.84],[9.36,0.78],[9.52,0.84],[9.68,0.8],[9.84,0.76],[9.96,0.84],[8.64,1.35],[8.82,1.4],[9.02,1.3],[9.22,1.42],[9.44,1.35],[9.62,1.4],[9.82,1.32],
[10.04,1.12],[10.12,0.96],[10.2,1.08],[10.28,1.2],[10.36,0.94],[10.44,1.12],[10.52,0.98],[10.6,1.08],[10.68,1.2],[10.76,0.94],[10.84,1.1],[10.92,0.98],[11.0,1.06],[11.08,1.18],[11.16,0.94],[11.24,1.1],[11.32,0.98],[11.4,1.06],[11.48,1.18],[10.08,0.82],[10.24,0.78],[10.4,0.86],[10.56,0.8],[10.72,0.84],[10.88,0.78],[11.04,0.84],[11.2,0.8],[11.36,0.84],[10.16,1.42],[10.48,1.38],[10.8,1.45],[11.1,1.4],[11.42,1.38],
[11.52,1.1],[11.62,0.95],[11.72,1.06],[11.82,1.2],[11.92,0.97],[12.02,1.1],[12.12,0.93],[12.22,1.08],[12.32,1.18],[12.42,0.96],[12.52,1.12],[12.62,1.0],[12.72,1.2],[12.82,0.98],[12.92,1.1],[11.58,0.82],[11.78,0.8],[11.98,0.86],[12.18,0.82],[12.38,0.78],[12.58,0.86],[12.78,0.82],[12.96,0.86],[11.68,1.4],[12.08,1.45],[12.46,1.4],[12.76,1.38],
[13.02,1.12],[13.12,0.96],[13.22,1.1],[13.32,1.2],[13.42,0.97],[13.52,1.1],[13.62,0.94],[13.72,1.08],[13.82,1.16],[13.92,0.96],[14.02,1.1],[14.12,1.0],[14.22,1.14],[14.32,0.96],[14.42,1.08],[13.08,0.84],[13.28,0.8],[13.48,0.86],[13.68,0.82],[13.88,0.78],[14.08,0.82],[14.28,0.8],[13.18,1.4],[13.48,1.35],[13.78,1.42],[14.1,1.32],
[14.52,1.12],[14.62,0.96],[14.75,1.1],[14.85,1.2],[14.95,0.92],[15.15,1.05],[15.25,0.96],[15.4,1.08],[15.55,1.12],[15.7,1.2]
];

var serif = "Liberation Serif, Times New Roman, serif";
var svg = d3.select("body").append("svg")
  .attr("width", 1183)
  .attr("height", 1117);
svg.append("rect").attr("width", 1183).attr("height", 1117).attr("fill", "#fff");

// every panel: frame box, scales, ticks on all four sides pointing inward
function makePanel(c) {
  var x = d3.scaleLinear().domain(c.xDomain).range([c.x0, c.x1]);
  var y = (c.log ? d3.scaleLog() : d3.scaleLinear()).domain(c.yDomain).range([c.y1, c.y0]);
  var g = svg.append("g");
  return { g: g, x: x, y: y, c: c };
}

function drawAxes(p) {
  var c = p.c, x = p.x, y = p.y;
  var layer = svg.append("g");
  function put(axis, tx, ty) {
    var a = layer.append("g").attr("transform", "translate(" + tx + "," + ty + ")").call(axis);
    a.select(".domain").remove();
    a.attr("font-family", serif).attr("font-size", 30);
    a.selectAll("line").attr("stroke", "#000").attr("stroke-width", 1.2);
    a.selectAll("text").attr("fill", "#000");
    return a;
  }
  var xLab = function(d) { return c.xLabels[c.xMajor.indexOf(d)]; };
  var yLab = function(d) { return c.yLabels[c.yMajor.indexOf(d)]; };
  put(d3.axisBottom(x).tickValues(c.xMajor).tickFormat(xLab).tickSize(-9).tickPadding(c.xPad), 0, c.y1);
  put(d3.axisBottom(x).tickValues(c.xMinor).tickFormat("").tickSize(-4.5), 0, c.y1);
  put(d3.axisTop(x).tickValues(c.xMajor).tickFormat("").tickSize(-9), 0, c.y0);
  put(d3.axisTop(x).tickValues(c.xMinor).tickFormat("").tickSize(-4.5), 0, c.y0);
  put(d3.axisLeft(y).tickValues(c.yMajor).tickFormat(yLab).tickSize(-9).tickPadding(8), c.x0, 0);
  put(d3.axisLeft(y).tickValues(c.yMid).tickFormat("").tickSize(-6.5), c.x0, 0);
  put(d3.axisLeft(y).tickValues(c.yMinor).tickFormat("").tickSize(-4), c.x0, 0);
  put(d3.axisRight(y).tickValues(c.yMajor).tickFormat("").tickSize(-9), c.x1, 0);
  put(d3.axisRight(y).tickValues(c.yMid).tickFormat("").tickSize(-6.5), c.x1, 0);
  put(d3.axisRight(y).tickValues(c.yMinor).tickFormat("").tickSize(-4), c.x1, 0);
  layer.append("rect")
    .attr("x", c.x0).attr("y", c.y0)
    .attr("width", c.x1 - c.x0).attr("height", c.y1 - c.y0)
    .attr("fill", "none").attr("stroke", "#000").attr("stroke-width", 1.6);
}

function drawBars(p, bins, probs, binW) {
  p.g.selectAll("rect.bar").data(probs).join("rect")
    .attr("class", "bar")
    .attr("x", function(d, i) { return p.x(bins[i]); })
    .attr("width", function(d, i) { return p.x(bins[i] + binW) - p.x(bins[i]); })
    .attr("y", function(d) { return p.y(d); })
    .attr("height", function(d) { return p.y(0) - p.y(d); })
    .attr("fill", "#a9a9a9")
    .attr("stroke", "#cfcfcf")
    .attr("stroke-width", 0.8);
}

function drawDots(p, pts) {
  p.g.selectAll("ellipse").data(pts).join("ellipse")
    .attr("cx", function(d) { return p.x(d[0]); })
    .attr("cy", function(d) { return p.y(d[1]); })
    .attr("rx", 2.3).attr("ry", 2.9)
    .attr("fill", "#000");
  // dashed W+/W- = 1 reference line, drawn over the dots
  p.g.append("line")
    .attr("x1", p.c.x0).attr("x2", p.c.x1)
    .attr("y1", p.y(1)).attr("y2", p.y(1))
    .attr("stroke", "#e3261b").attr("stroke-width", 3)
    .attr("stroke-dasharray", "8,4");
}

function text(str, x, y, size, weight, anchor) {
  return svg.append("text").attr("x", x).attr("y", y)
    .attr("font-size", size).attr("font-weight", weight || "normal")
    .attr("text-anchor", anchor || "start").attr("fill", "#000").text(str);
}

function yTitle(parts, x, y, size) {
  var t = svg.append("text")
    .attr("transform", "translate(" + x + "," + y + ") rotate(-90)")
    .attr("text-anchor", "middle").attr("font-size", size).attr("font-weight", "bold");
  parts.forEach(function(s) {
    t.append("tspan").attr("font-style", s[1] ? "italic" : "normal").text(s[0]);
  });
}

function subTitle(main, sub, rest, x, y, mainStyle, subStyle) {
  var t = svg.append("text").attr("x", x).attr("y", y)
    .attr("text-anchor", "middle").attr("font-size", 31).attr("font-weight", "bold");
  t.append("tspan").attr("font-style", mainStyle).text(main);
  t.append("tspan").attr("font-size", 17).attr("dy", 7)
    .attr("font-style", subStyle).attr("font-weight", sub === "res" ? "normal" : "bold").text(sub);
  t.append("tspan").attr("dy", -7).text(rest);
}

var tenths = function(n) { return d3.range(n + 1).map(function(i) { return i / 100; }); };
var logMinor = [0.05,0.06,0.07,0.08,0.09,0.2,0.3,0.4,0.5,0.6,0.7,0.8,0.9,2,3,4,5,6,7,8,9];

// ---- a) ----
var pa = makePanel({ x0: 82, x1: 562, y0: 47, y1: 314, xDomain: [0, 30], yDomain: [0, 0.35],
  xMajor: wresTicks, xLabels: wresTicks.map(String), xMinor: d3.range(0, 31), xPad: 6,
  yMajor: [0, 0.1, 0.2, 0.3], yLabels: probTicksA, yMid: [0.05, 0.15, 0.25], yMinor: tenths(35) });
drawBars(pa, wresBinsEarth, wresProbEarth, 1);
drawAxes(pa);

// ---- d) ----
var pd = makePanel({ x0: 675, x1: 1157, y0: 47, y1: 314, xDomain: [0, 30], yDomain: [0, 0.2],
  xMajor: wresTicks, xLabels: wresTicks.map(String), xMinor: d3.range(0, 31), xPad: 6,
  yMajor: [0, 0.05, 0.1, 0.15, 0.2], yLabels: probTicksD, yMid: [0.025, 0.075, 0.125, 0.175], yMinor: tenths(20) });
drawBars(pd, wresBinsTail, wresProbTail, 1);
drawAxes(pd);

// ---- b) ----
var pb = makePanel({ x0: 82, x1: 562, y0: 404, y1: 672, xDomain: [0, 180], yDomain: [0, 0.25],
  xMajor: alphaTicks, xLabels: alphaTicks.map(String), xMinor: d3.range(0, 181, 10), xPad: 7,
  yMajor: [0, 0.1, 0.2], yLabels: probTicksB, yMid: [0.05, 0.15, 0.25], yMinor: tenths(25) });
drawBars(pb, alphaBins, alphaProbEarth, 10);
pb.g.append("line").attr("x1", pb.x(90)).attr("x2", pb.x(90)).attr("y1", 672).attr("y2", 404)
  .attr("stroke", "#333").attr("stroke-width", 1.1).attr("stroke-dasharray", "1.5,2");
drawAxes(pb);

// ---- e) ----
var pe = makePanel({ x0: 675, x1: 1157, y0: 404, y1: 672, xDomain: [0, 180], yDomain: [0, 0.3],
  xMajor: alphaTicks, xLabels: alphaTicks.map(String), xMinor: d3.range(0, 181, 10), xPad: 7,
  yMajor: [0, 0.1, 0.2, 0.3], yLabels: probTicksE, yMid: [0.05, 0.15, 0.25], yMinor: tenths(30) });
drawBars(pe, alphaBins, alphaProbTail, 10);
pe.g.append("line").attr("x1", pe.x(90)).attr("x2", pe.x(90)).attr("y1", 672).attr("y2", 404)
  .attr("stroke", "#333").attr("stroke-width", 1.1).attr("stroke-dasharray", "1.5,2");
drawAxes(pe);

// ---- c) ----
var pc = makePanel({ x0: 82, x1: 563, y0: 768, y1: 1041, xDomain: [0, 20], yDomain: [0.05, 10], log: true,
  xMajor: bxTicks, xLabels: bxTicks.map(String), xMinor: d3.range(0, 21), xPad: 8,
  yMajor: [0.1, 1, 10], yLabels: ratioTicks, yMid: [], yMinor: logMinor });
drawDots(pc, earthPoints);
drawAxes(pc);

// ---- f) ----
var pf = makePanel({ x0: 675, x1: 1158, y0: 768, y1: 1041, xDomain: [0, 20], yDomain: [0.05, 10], log: true,
  xMajor: bxTicks, xLabels: bxTicks.map(String), xMinor: d3.range(0, 21), xPad: 8,
  yMajor: [0.1, 1, 10], yLabels: ratioTicks, yMid: [], yMinor: logMinor });
drawDots(pf, tailPoints);
drawAxes(pf);

// ---- titles and labels ----
text("Earthward flow intervals", 337, 35, 38, "bold", "middle");
text("Tailward flow intervals", 913, 35, 38, "bold", "middle");

yTitle([["Probability", false]], 29, 186, 29);
yTitle([["Probability", false]], 611, 187, 29);
yTitle([["Probability", false]], 29, 554, 29);
yTitle([["Probability", false]], 620, 555, 29);
yTitle([["W", true], ["+/", false], ["W", true], ["-", false]], 34, 911, 29);
yTitle([["W", true], ["+/", false], ["W", true], ["-", false]], 627, 911, 29);

subTitle("W", "res", ", keV", 335, 378, "italic", "normal");
subTitle("W", "res", ", keV", 925, 378, "italic", "normal");
text("\u03b1, deg", 336, 734, 29.5, "normal", "middle");
text("\u03b1, deg", 928, 734, 29.5, "normal", "middle");
subTitle("B", "X", ", nT", 338, 1107, "italic", "italic");
subTitle("B", "X", ", nT", 934, 1107, "italic", "italic");

text("a)", 90, 72, 30, "bold");
text("d)", 683, 74, 30, "bold");
text("b)", 88, 397, 30, "bold");
text("e)", 686, 397, 30, "bold");
text("c)", 84, 759, 30, "bold");
text("f)", 690, 759, 30, "bold");

text("k\u00b7B < 0", 105, 437, 28, "bold");
text("k\u00b7B > 0", 550, 437, 28, "bold", "end");
text("k\u00b7B < 0", 697, 437, 28, "bold");
text("k\u00b7B > 0", 1146, 437, 28, "bold", "end");
</script>
</body>
</html>
